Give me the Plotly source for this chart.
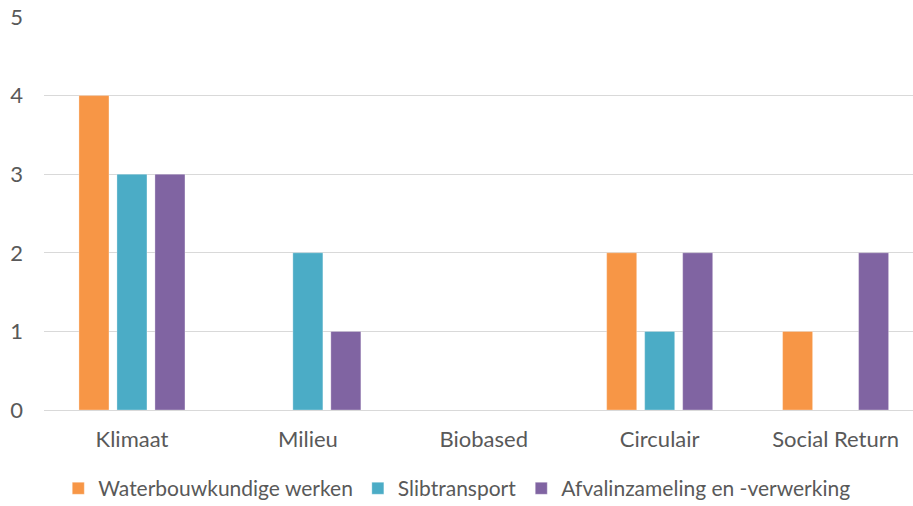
import plotly.graph_objects as go

categories = ["Klimaat", "Milieu", "Biobased", "Circulair", "Social Return"]
waterbouw = [4, 0, 0, 2, 1]
slib = [3, 2, 0, 1, 0]
afval = [3, 1, 0, 2, 2]
series_names = ["Waterbouwkundige werken", "Slibtransport", "Afvalinzameling en -verwerking"]
colors = ["#F79646", "#4BACC6", "#8064A2"]
y_ticks = [0, 1, 2, 3, 4, 5]

fig = go.Figure()
for name, vals, c in zip(series_names, [waterbouw, slib, afval], colors):
    fig.add_trace(go.Bar(x=categories, y=vals, name=name, marker_color=c,
                         marker_line=dict(color="rgba(255,255,255,0.6)", width=0.5)))

font_family = "Lato, Carlito, Calibri, sans-serif"
fig.update_layout(
    width=913, height=506,
    margin=dict(l=44, r=0, t=17, b=96, autoexpand=False),
    plot_bgcolor="white", paper_bgcolor="white",
    barmode="group", bargap=0.352, bargroupgap=0.21,
    font=dict(family=font_family, color="#595959", size=22),
    legend=dict(orientation="h", x=0.475, xanchor="center", y=-0.2, yanchor="middle",
                font=dict(size=21, color="#595959"), traceorder="normal",
                itemwidth=30, tracegroupgap=0),
    xaxis=dict(range=[-0.5, 4.44], showgrid=False, showline=False, ticks="",
               ticklabelstandoff=14,
               tickfont=dict(size=22, color="#595959")),
    yaxis=dict(range=[0, 5], tickvals=y_ticks, showgrid=True, gridcolor="#D9D9D9", gridwidth=1,
               zeroline=True, zerolinecolor="#D9D9D9", zerolinewidth=1, ticks="",
               ticklabelstandoff=20, tickfont=dict(size=22, color="#595959")),
)
fig.write_html("out.html")
